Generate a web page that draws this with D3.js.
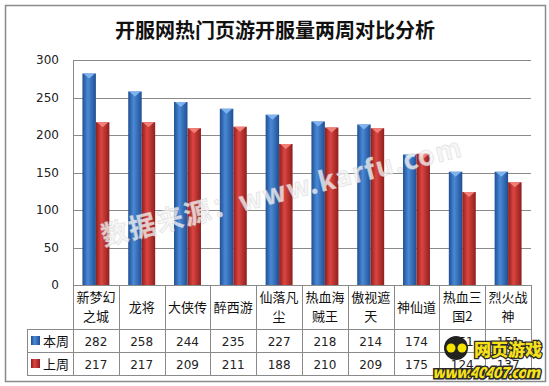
<!DOCTYPE html>
<html>
<head>
<meta charset="utf-8">
<script src="https://cdn.jsdelivr.net/npm/d3@7"></script>
<style>
  body { margin: 0; background: #fff; }
  svg { display: block; font-family: "Noto Sans CJK SC", "DejaVu Sans", sans-serif; }
</style>
</head>
<body>
<div id="chart"></div>
<script>
const categories = ['新梦幻之城', '龙将', '大侠传', '醉西游', '仙落凡尘', '热血海贼王', '傲视遮天', '神仙道', '热血三国2', '烈火战神'];
const categoryLines = [['新梦幻', '之城'], ['龙将'], ['大侠传'], ['醉西游'], ['仙落凡', '尘'], ['热血海', '贼王'], ['傲视遮', '天'], ['神仙道'], ['热血三', '国2'], ['烈火战', '神']];
const seriesNames = ['本周', '上周'];
const thisWeek = [282, 258, 244, 235, 227, 218, 214, 174, 151, 151];
const lastWeek = [217, 217, 209, 211, 188, 210, 209, 175, 124, 137];
const yTicks = [0, 50, 100, 150, 200, 250, 300];

const W = 549, H = 386;
const plot = { left: 73, right: 531, top: 60, bottom: 285 };
const table = { left: 27, catBottom: 329, row1: 352, row2: 375 };
const colors = {
  '本周': { dark: '#1f4f93', mid: '#4a89d6', cap: '#7fb2ee' },
  '上周': { dark: '#8e1f1d', mid: '#dc4540', cap: '#f08078' }
};

const svg = d3.select('#chart').append('svg').attr('width', W).attr('height', H);

// gradients for the cylinder look
const defs = svg.append('defs');
seriesNames.forEach((s, i) => {
  const g = defs.append('linearGradient').attr('id', 'grad' + i).attr('x1', 0).attr('x2', 1).attr('y1', 0).attr('y2', 0);
  g.append('stop').attr('offset', '0%').attr('stop-color', colors[s].dark);
  g.append('stop').attr('offset', '40%').attr('stop-color', colors[s].mid);
  g.append('stop').attr('offset', '100%').attr('stop-color', colors[s].dark);
});

// outer border
svg.append('rect').attr('x', 5.5).attr('y', 5.5).attr('width', 540).attr('height', 376)
  .attr('fill', '#fff').attr('stroke', '#8a8a8a').attr('stroke-width', 1.5);

svg.append('text').attr('x', 275).attr('y', 38).attr('text-anchor', 'middle')
  .attr('font-size', 20).attr('font-weight', 700).attr('fill', '#111')
  .text('开服网热门页游开服量两周对比分析');

const x = d3.scaleBand().domain(categories).range([plot.left, plot.right]).padding(0);
const xSub = d3.scaleBand().domain(seriesNames).range([0, x.bandwidth()]).paddingInner(0).paddingOuter(0.7);
const y = d3.scaleLinear().domain([0, 300]).range([plot.bottom, plot.top]);

// gridlines
svg.append('g').selectAll('line').data(yTicks.filter(d => d > 0)).join('line')
  .attr('x1', plot.left).attr('x2', plot.right)
  .attr('y1', d => Math.round(y(d)) + 0.5).attr('y2', d => Math.round(y(d)) + 0.5)
  .attr('stroke', '#8a8a8a').attr('stroke-width', 1);

// y axis
const yAxis = svg.append('g').attr('transform', `translate(${plot.left},0)`)
  .call(d3.axisLeft(y).tickValues(yTicks).tickSize(0).tickPadding(14));
yAxis.select('.domain').attr('stroke', '#8a8a8a');
yAxis.selectAll('text').attr('font-size', 12).attr('fill', '#222').attr('font-family', 'Tahoma, "DejaVu Sans", sans-serif');

// bars
const rows = categories.map((c, i) => ({ cat: c, values: [
  { s: '本周', v: thisWeek[i] }, { s: '上周', v: lastWeek[i] }
] }));
const groups = svg.append('g').selectAll('g').data(rows).join('g')
  .attr('transform', d => `translate(${x(d.cat)},0)`);
groups.selectAll('rect').data(d => d.values).join('rect')
  .attr('x', d => xSub(d.s)).attr('y', d => y(d.v))
  .attr('width', xSub.bandwidth()).attr('height', d => y(0) - y(d.v))
  .attr('fill', d => `url(#grad${seriesNames.indexOf(d.s)})`);
groups.selectAll('path').data(d => d.values).join('path')
  .attr('d', d => {
    const x0 = xSub(d.s), w = xSub.bandwidth(), t = y(d.v);
    return `M${x0 + 1},${t}L${x0 + w - 1},${t}L${x0 + w / 2},${t + 5}Z`;
  })
  .attr('fill', d => colors[d.s].cap);

// watermark
svg.append('text').attr('transform', 'translate(104,246) rotate(-14)')
  .attr('font-size', 27).attr('font-weight', 700).attr('fill', '#f4f4f4').attr('fill-opacity', 0.8)
  .attr('stroke', '#c8c8c8').attr('stroke-opacity', 0.45).attr('stroke-width', 0.8)
  .attr('textLength', 370).text('数据来源：www.karfu.com');

// data table
const tbl = svg.append('g').attr('stroke', '#8a8a8a').attr('stroke-width', 1);
const bounds = categories.map(c => x(c)).concat([plot.right]);
tbl.selectAll('line.v').data(bounds).join('line')
  .attr('x1', d => Math.round(d) + 0.5).attr('x2', d => Math.round(d) + 0.5)
  .attr('y1', plot.bottom).attr('y2', table.row2);
[table.catBottom, table.row1, table.row2].forEach(yy => {
  tbl.append('line').attr('x1', table.left).attr('x2', plot.right).attr('y1', yy + 0.5).attr('y2', yy + 0.5);
});
tbl.append('line').attr('x1', table.left + 0.5).attr('x2', table.left + 0.5).attr('y1', table.catBottom).attr('y2', table.row2);
tbl.append('line').attr('x1', plot.left).attr('x2', plot.right).attr('y1', plot.bottom + 0.5).attr('y2', plot.bottom + 0.5);

const cx = c => x(c) + x.bandwidth() / 2;
svg.append('g').selectAll('text').data(categories).join('text')
  .attr('x', cx).attr('text-anchor', 'middle').attr('font-size', 13).attr('fill', '#111')
  .each(function(c, i) {
    const lines = categoryLines[i];
    const t = d3.select(this);
    const y0 = lines.length === 1 ? 312 : 302;
    lines.forEach((l, k) => t.append('tspan').attr('x', cx(c)).attr('y', y0 + k * 19).text(l));
  });

[thisWeek, lastWeek].forEach((vals, r) => {
  const ty = r === 0 ? 346 : 369;
  svg.append('g').selectAll('text').data(vals).join('text')
    .attr('x', (d, i) => cx(categories[i])).attr('y', ty).attr('text-anchor', 'middle')
    .attr('font-size', 12).attr('fill', '#222').attr('font-family', 'Tahoma, "DejaVu Sans", sans-serif')
    .text(d => d);
  const s = seriesNames[r];
  svg.append('rect').attr('x', 31).attr('y', ty - 10).attr('width', 9).attr('height', 9)
    .attr('fill', `url(#grad${r})`);
  svg.append('text').attr('x', 43).attr('y', ty).attr('font-size', 13).attr('fill', '#111').text(s);
});

// site logo stamp
const logo = svg.append('g').attr('transform', 'translate(430,332)');
logo.append('circle').attr('cx', 26).attr('cy', 16).attr('r', 12).attr('fill', '#222');
logo.append('circle').attr('cx', 21).attr('cy', 16).attr('r', 4.5).attr('fill', '#f5e400');
logo.append('circle').attr('cx', 32).attr('cy', 16).attr('r', 4.5).attr('fill', '#f5e400');
logo.append('text').attr('x', 78).attr('y', 24).attr('text-anchor', 'middle')
  .attr('font-size', 17).attr('font-weight', 900).attr('fill', '#f7e21a')
  .attr('stroke', '#2a2a2a').attr('stroke-width', 2.5).attr('paint-order', 'stroke').text('网页游戏');
logo.append('text').attr('x', 56).attr('y', 46).attr('text-anchor', 'middle')
  .attr('font-size', 15).attr('font-weight', 900).attr('font-style', 'italic').attr('fill', '#f7e21a')
  .attr('stroke', '#2a2a2a').attr('stroke-width', 3).attr('paint-order', 'stroke')
  .attr('textLength', 108).text('www.40407.com');
</script>
</body>
</html>
